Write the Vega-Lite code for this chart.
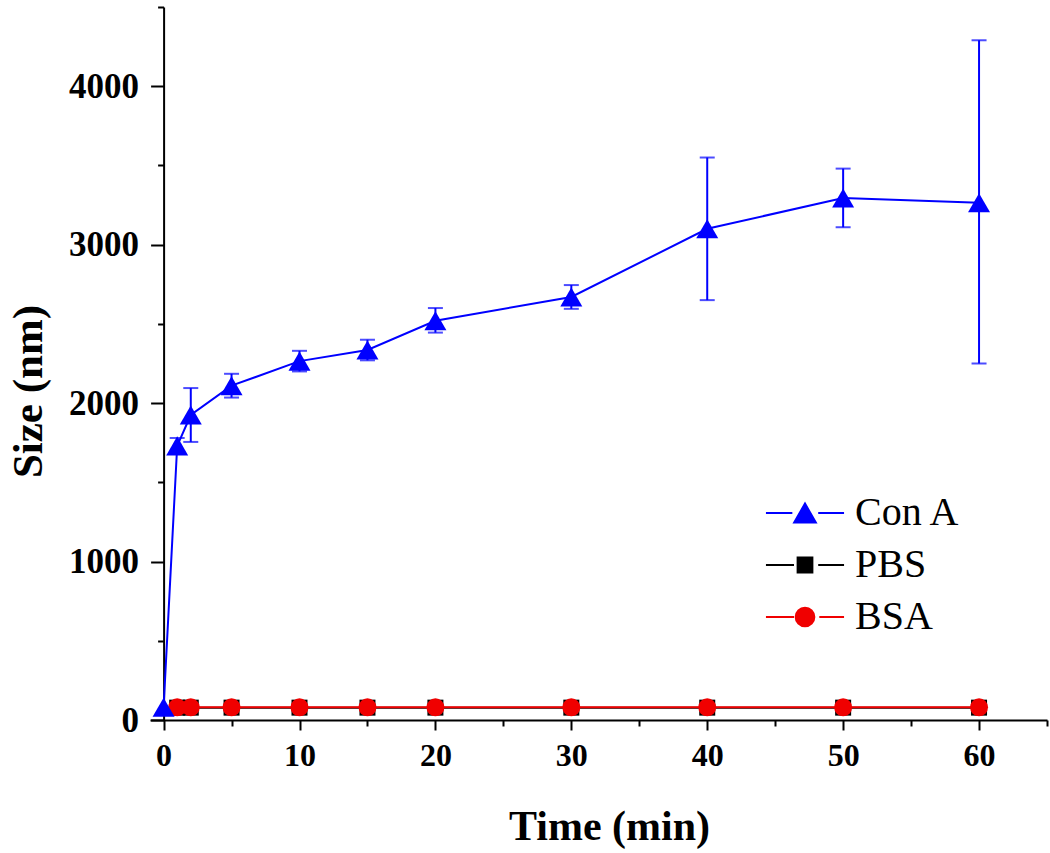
{
  "$schema": "https://vega.github.io/schema/vega-lite/v6.json",
  "width": 897,
  "height": 713,
  "autosize": {"type": "none"},
  "padding": {"left": 150, "top": 7, "right": 3, "bottom": 133},
  "background": "white",
  "config": {"view": {"stroke": null}, "font": "Liberation Serif"},
  "data": {
    "values": [
      {"series": "PBS", "time": 1, "size": 78},
      {"series": "PBS", "time": 2, "size": 78},
      {"series": "PBS", "time": 5, "size": 78},
      {"series": "PBS", "time": 10, "size": 78},
      {"series": "PBS", "time": 15, "size": 78},
      {"series": "PBS", "time": 20, "size": 78},
      {"series": "PBS", "time": 30, "size": 78},
      {"series": "PBS", "time": 40, "size": 78},
      {"series": "PBS", "time": 50, "size": 78},
      {"series": "PBS", "time": 60, "size": 78},
      {"series": "BSA", "time": 1, "size": 80},
      {"series": "BSA", "time": 2, "size": 80},
      {"series": "BSA", "time": 5, "size": 80},
      {"series": "BSA", "time": 10, "size": 80},
      {"series": "BSA", "time": 15, "size": 80},
      {"series": "BSA", "time": 20, "size": 80},
      {"series": "BSA", "time": 30, "size": 80},
      {"series": "BSA", "time": 40, "size": 80},
      {"series": "BSA", "time": 50, "size": 80},
      {"series": "BSA", "time": 60, "size": 80},
      {"series": "Con A", "time": 0, "size": 80},
      {"series": "Con A", "time": 1, "size": 1730, "lo": 1680, "hi": 1780},
      {"series": "Con A", "time": 2, "size": 1925, "lo": 1755, "hi": 2095},
      {"series": "Con A", "time": 5, "size": 2110, "lo": 2035, "hi": 2185},
      {"series": "Con A", "time": 10, "size": 2265, "lo": 2200, "hi": 2330},
      {"series": "Con A", "time": 15, "size": 2335, "lo": 2270, "hi": 2400},
      {"series": "Con A", "time": 20, "size": 2520, "lo": 2445, "hi": 2600},
      {"series": "Con A", "time": 30, "size": 2670, "lo": 2595, "hi": 2745},
      {"series": "Con A", "time": 40, "size": 3100, "lo": 2650, "hi": 3550},
      {"series": "Con A", "time": 50, "size": 3295, "lo": 3110, "hi": 3480},
      {"series": "Con A", "time": 60, "size": 3265, "lo": 2250, "hi": 4290}
    ]
  },
  "encoding": {
    "x": {
      "field": "time",
      "type": "quantitative",
      "scale": {"domain": [-1, 65], "nice": false, "zero": false},
      "axis": {
        "title": "Time (min)",
        "titleX": 459,
        "values": [0, 5, 10, 15, 20, 25, 30, 35, 40, 45, 50, 55, 60, 65],
        "labelExpr": "datum.value % 10 === 0 ? datum.label : ''",
        "tickSize": {"condition": {"test": "datum.value % 10 === 0", "value": 10}, "value": 6},
        "tickColor": "black",
        "tickWidth": 2,
        "domainColor": "black",
        "domainWidth": 2,
        "grid": false,
        "labelFont": "Liberation Serif",
        "labelFontWeight": "bold",
        "labelFontSize": 32,
        "labelColor": "black",
        "labelPadding": 10,
        "labelFlush": false,
        "labelOverlap": false,
        "titleFont": "Liberation Serif",
        "titleFontWeight": "bold",
        "titleFontSize": 42,
        "titleColor": "black",
        "titlePadding": 35
      }
    },
    "y": {
      "field": "size",
      "type": "quantitative",
      "scale": {"domain": [0, 4500], "nice": false},
      "axis": {
        "title": "Size (nm)",
        "titleY": 384,
        "offset": -13.6,
        "values": [0, 500, 1000, 1500, 2000, 2500, 3000, 3500, 4000, 4500],
        "labelExpr": "datum.value % 1000 === 0 ? datum.label : ''",
        "format": "d",
        "tickSize": {"condition": {"test": "datum.value % 1000 === 0", "value": 13}, "value": 6},
        "tickColor": "black",
        "tickWidth": 2,
        "domainColor": "black",
        "domainWidth": 2,
        "grid": false,
        "labelFont": "Liberation Serif",
        "labelFontWeight": "bold",
        "labelFontSize": 35,
        "labelColor": "black",
        "labelPadding": 12,
        "labelFlush": false,
        "labelOverlap": false,
        "titleFont": "Liberation Serif",
        "titleFontWeight": "bold",
        "titleFontSize": 43,
        "titleColor": "black",
        "titlePadding": 18
      }
    }
  },
  "layer": [
    {
      "transform": [{"filter": "datum.series === 'Con A' && isValid(datum.lo)"}],
      "mark": {"type": "rule", "color": "#0000ff", "strokeWidth": 2},
      "encoding": {"y": {"field": "lo", "type": "quantitative"}, "y2": {"field": "hi"}}
    },
    {
      "transform": [{"filter": "datum.series === 'Con A' && isValid(datum.lo)"}],
      "mark": {"type": "tick", "orient": "horizontal", "color": "#0000ff", "size": 15, "thickness": 2},
      "encoding": {"y": {"field": "lo", "type": "quantitative"}}
    },
    {
      "transform": [{"filter": "datum.series === 'Con A' && isValid(datum.hi)"}],
      "mark": {"type": "tick", "orient": "horizontal", "color": "#0000ff", "size": 15, "thickness": 2},
      "encoding": {"y": {"field": "hi", "type": "quantitative"}}
    },
    {
      "mark": {"type": "line", "strokeWidth": 2},
      "encoding": {
        "color": {
          "field": "series",
          "type": "nominal",
          "scale": {"domain": ["PBS", "BSA", "Con A"], "range": ["#000000", "#f00000", "#0000ff"]},
          "legend": null
        },
        "detail": {"field": "series"}
      }
    },
    {
      "transform": [{"filter": "datum.series === 'PBS'"}],
      "mark": {"type": "point", "filled": true, "opacity": 1, "shape": "square", "size": 256},
      "encoding": {"color": {"field": "series", "type": "nominal", "legend": null}}
    },
    {
      "transform": [{"filter": "datum.series === 'BSA'"}],
      "mark": {"type": "point", "filled": true, "opacity": 1, "shape": "circle", "size": 324},
      "encoding": {"color": {"field": "series", "type": "nominal", "legend": null}}
    },
    {
      "transform": [{"filter": "datum.series === 'Con A'"}],
      "mark": {"type": "point", "filled": true, "opacity": 1, "shape": "triangle-up", "size": 484},
      "encoding": {"color": {"field": "series", "type": "nominal", "legend": null}}
    },
    {
      "mark": {
        "type": "point",
        "filled": true,
        "opacity": 0,
        "fill": {"expr": "(datum.value || datum.series) === 'Con A' ? '#0000ff' : ((datum.value || datum.series) === 'PBS' ? '#000000' : '#f00000')"},
        "stroke": {"expr": "(datum.value || datum.series) === 'Con A' ? '#0000ff' : ((datum.value || datum.series) === 'PBS' ? '#000000' : '#f00000')"},
        "strokeWidth": 1.8
      },
      "encoding": {
        "shape": {
          "field": "series",
          "type": "nominal",
          "scale": {
            "domain": ["Con A", "PBS", "BSA"],
            "range": [
              "M-3.55,0H-1.15M1.2,0H3.55M-1,0.87L1,0.87L0,-0.87Z",
              "M-3.55,0H-1.0M1.2,0H3.55M-0.68,-0.68H0.68V0.68H-0.68Z",
              "M-3.55,0H-1.0M1.3,0H3.55M0.86,0A0.86,0.86,0,1,1,-0.86,0A0.86,0.86,0,1,1,0.86,0Z"
            ]
          },
          "legend": {
            "title": null, "orient": "none", "legendX": 635, "legendY": 486, "padding": 0,
            "symbolSize": 484, "symbolStrokeWidth": 1.8, "symbolOpacity": 1,
            "labelFont": "Liberation Serif", "labelFontSize": 40, "labelColor": "black",
            "labelOffset": 30, "rowPadding": 12
          }
        }
      }
    }
  ]
}
